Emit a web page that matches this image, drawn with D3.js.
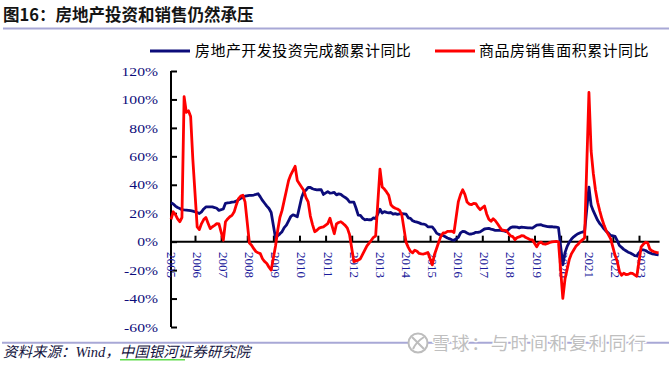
<!DOCTYPE html>
<html><head><meta charset="utf-8">
<script src="https://cdn.jsdelivr.net/npm/d3@7"></script>
<style>html,body{margin:0;padding:0;background:#fff;} svg{display:block;}</style>
</head><body><svg id="c" width="669" height="369"></svg>
<script>
// ---------- data ----------
const yearLabels = ["2005","2006","2007","2008","2009","2010","2011","2012","2013","2014","2015","2016","2017","2018","2019","2020","2021","2022","2023"];
const yTickValues = [-60,-40,-20,0,20,40,60,80,100,120];
const seriesNames = ["房地产开发投资完成额累计同比", "商品房销售面积累计同比"];
const lastMonth2023 = 10;
// monthly cumulative YoY (%), Feb..Dec of each year (2023: Feb..Oct)
const investment = [
  27.3, 26.5, 25.0, 24.0, 23.3, 22.5, 22.3, 22.2, 22.0, 21.8, 21.5,   // 2005
  20.5, 19.8, 21.0, 23.0, 24.4, 24.4, 24.4, 24.4, 24.0, 23.5, 22.0,   // 2006
  23.0, 27.0, 27.3, 27.5, 27.8, 28.0, 28.5, 29.5, 30.5, 31.0, 32.0,   // 2007
  32.6, 32.6, 32.8, 33.2, 33.7, 31.5, 29.0, 27.0, 25.0, 23.3, 20.5,   // 2008
  2.5, 4.1, 5.5, 7.0, 9.9, 11.6, 14.7, 17.7, 18.9, 18.3, 17.5,        // 2009
  31.1, 35.1, 36.2, 38.2, 38.1, 37.2, 36.7, 36.4, 36.5, 36.5, 33.2,   // 2010
  35.2, 34.1, 34.3, 34.6, 32.9, 33.6, 33.2, 32.0, 31.1, 29.9, 27.9,   // 2011
  27.8, 23.5, 18.7, 18.5, 16.6, 15.4, 15.6, 15.4, 15.4, 16.7, 16.2,   // 2012
  22.8, 20.2, 21.1, 20.6, 20.3, 20.5, 19.3, 19.7, 19.2, 19.5, 19.8,   // 2013
  19.3, 16.8, 16.4, 14.7, 14.1, 13.7, 13.2, 12.5, 12.4, 11.9, 10.5,   // 2014
  10.4, 8.5, 6.0, 5.1, 4.6, 4.3, 3.5, 2.6, 2.0, 1.3, 1.0,             // 2015
  3.0, 6.2, 7.2, 7.0, 6.1, 5.3, 5.4, 5.8, 6.6, 6.5, 6.9,              // 2016
  8.9, 9.1, 9.3, 8.8, 8.5, 7.9, 7.9, 8.1, 7.8, 7.5, 7.0,              // 2017
  9.9, 10.4, 10.3, 10.2, 9.7, 10.2, 10.1, 9.9, 9.7, 9.7, 9.5,         // 2018
  11.6, 11.8, 11.9, 11.2, 10.9, 10.6, 10.5, 10.5, 10.3, 10.2, 9.9,    // 2019
  -16.3, -7.7, -3.3, -0.3, 1.9, 3.4, 4.6, 5.6, 6.3, 6.8, 7.0,         // 2020
  38.3, 25.6, 21.6, 18.3, 15.0, 12.7, 10.9, 8.8, 7.2, 6.0, 4.4,       // 2021
  3.7, 0.7, -2.7, -4.0, -5.4, -6.4, -7.4, -8.0, -8.8, -9.8, -10.0,    // 2022
  -5.7, -5.8, -6.2, -7.2, -7.9, -8.5, -8.8, -9.1, -9.3                // 2023
];
const salesArea = [
  15.6, 21.0, 19.0, 16.0, 14.0, 17.0, 102.0, 91.0, 92.0, 88.0, 58.0,  // 2005
  10.4, 8.5, 12.7, 15.5, 17.0, 13.0, 9.2, 10.5, 11.5, 12.7, 12.5,     // 2006
  1.0, 14.0, 16.0, 17.5, 18.5, 21.0, 26.0, 30.3, 32.0, 32.6, 28.0,    // 2007
  -1.0, -2.5, -4.9, -7.0, -7.8, -8.4, -12.0, -14.0, -15.4, -18.0, -20.0, // 2008
  -3.0, 8.0, 17.0, 22.0, 29.0, 36.0, 43.0, 47.0, 50.0, 53.0, 43.0,    // 2009
  38.3, 36.0, 31.0, 28.0, 18.0, 12.0, 7.0, 8.0, 9.5, 10.0, 10.4,      // 2010
  12.7, 16.5, 11.0, 5.6, 12.5, 13.5, 14.0, 12.8, 11.5, 9.5, 5.0,      // 2011
  -14.0, -13.5, -13.0, -12.0, -9.0, -6.0, -3.0, -1.0, 1.0, 3.0, 4.0,  // 2012
  51.0, 38.5, 37.0, 35.0, 32.6, 26.0, 24.4, 23.5, 23.0, 22.0, 19.0,   // 2013
  -0.5, -4.0, -6.8, -7.8, -6.0, -6.7, -8.3, -8.6, -8.7, -8.2, -7.6,   // 2014
  -16.3, -9.2, -4.8, -0.2, 3.9, 6.1, 6.2, 7.2, 7.2, 7.4, 6.5,         // 2015
  28.2, 33.1, 36.5, 33.2, 27.9, 26.4, 26.0, 26.9, 26.8, 24.3, 22.5,   // 2016
  25.1, 19.5, 15.7, 14.3, 16.1, 14.7, 12.6, 10.3, 8.2, 8.0, 7.7,      // 2017
  4.1, 3.6, 1.3, 2.9, 3.3, 4.2, 4.1, 2.9, 2.2, 1.4, 1.3,              // 2018
  -3.6, -0.9, -0.3, -1.6, -1.8, -1.3, -0.6, -0.1, 0.1, 0.2, -0.1,     // 2019
  -39.9, -26.3, -19.3, -12.3, -8.4, -5.8, -3.3, -1.8, 0.0, 1.3, 2.6,  // 2020
  104.9, 63.8, 48.1, 36.3, 27.7, 21.5, 15.9, 11.3, 7.5, 4.8, 1.9,     // 2021
  -9.6, -13.8, -20.9, -23.6, -22.2, -23.1, -23.0, -22.2, -22.3, -23.3, -24.3, // 2022
  -3.6, -1.8, -0.4, -0.9, -5.3, -6.5, -7.1, -7.5, -7.8                // 2023
];

// period positions (decimal years), Feb..Dec each year
const periods = [];
yearLabels.forEach(ys => {
  const y = +ys, last = (y === 2023) ? lastMonth2023 : 12;
  for (let m = 2; m <= last; m++) periods.push(y + (m - 1) / 12);
});

// ---------- chart ----------
const svg = d3.select("#c");
const navy = "#0c0c7a", red = "#ff0000", lav = "#a8a8d6";
const cjk = "'Noto Sans CJK SC', sans-serif";
const serif = "'Liberation Serif', 'Times New Roman', serif";

const x = d3.scaleLinear().domain([2006, 2023]).range([195, 639]);
const y = d3.scaleLinear().domain([-60, 120]).range([327, 71]);
const xStart = x(2005 + 1/12), xEnd = x(2023 + (lastMonth2023 - 1)/12) + 1;

// title
svg.append("text").attr("x", 3).attr("y", 21)
  .attr("font-family", cjk).attr("font-size", 16.5).attr("font-weight", 700)
  .attr("fill", "#141414").text("图16：房地产投资和销售仍然承压");
svg.append("line").attr("x1", 3).attr("x2", 669).attr("y1", 28.5).attr("y2", 28.5)
  .attr("stroke", lav).attr("stroke-width", 2);

// legend
const legend = [
  {name: seriesNames[0], color: navy, x1: 150, x2: 190, tx: 195},
  {name: seriesNames[1], color: red, x1: 435, x2: 475, tx: 479}
];
legend.forEach(l => {
  svg.append("line").attr("x1", l.x1).attr("x2", l.x2).attr("y1", 51).attr("y2", 51)
    .attr("stroke", l.color).attr("stroke-width", 3);
  svg.append("text").attr("x", l.tx).attr("y", 55.5)
    .attr("font-family", cjk).attr("font-size", 15).attr("letter-spacing", 0.45)
    .attr("fill", "#000").text(l.name);
});

// y axis
const yAxis = svg.append("g").attr("transform", `translate(171,0)`)
  .call(d3.axisRight(y).tickValues(yTickValues).tickSize(6).tickFormat(""));
yAxis.select(".domain").attr("stroke", "#000").attr("stroke-width", 2)
  .attr("d", `M0,${y(120)}V${y(-60)}`);
yAxis.selectAll(".tick line").attr("stroke", "#000").attr("stroke-width", 2);
svg.append("g").selectAll("text").data(yTickValues).join("text")
  .attr("transform", d => `translate(158,${y(d)}) scale(1.16,1)`)
  .attr("text-anchor", "end").attr("dominant-baseline", "central")
  .attr("font-family", serif).attr("font-size", 13.5).attr("fill", navy)
  .text(d => d + "%");

// x axis at 0%
const tickYears = yearLabels.slice(1).map(Number);
const xAxis = svg.append("g").attr("transform", `translate(0,${y(0)})`)
  .call(d3.axisTop(x).tickValues(tickYears).tickSize(6).tickFormat(""));
xAxis.select(".domain").attr("stroke", "#000").attr("stroke-width", 2)
  .attr("d", `M${xStart},0H${xEnd}`);
xAxis.selectAll(".tick line").attr("stroke", "#000").attr("stroke-width", 2);
svg.append("g").selectAll("text").data(yearLabels).join("text")
  .attr("transform", d => `translate(${x(+d) + 2.5},252) rotate(90)`)
  .attr("text-anchor", "start").attr("dominant-baseline", "central")
  .attr("font-family", serif).attr("font-size", 13).attr("fill", "#1a1a9a")
  .text(d => d);

// series
const line = d3.line().x((d, i) => x(periods[i])).y(d => y(d));
svg.append("path").datum(investment).attr("d", line)
  .attr("fill", "none").attr("stroke", navy).attr("stroke-width", 2.8)
  .attr("stroke-linejoin", "round");
svg.append("path").datum(salesArea).attr("d", line)
  .attr("fill", "none").attr("stroke", red).attr("stroke-width", 2.8)
  .attr("stroke-linejoin", "round");

// footer
svg.append("line").attr("x1", 2).attr("x2", 669).attr("y1", 342.7).attr("y2", 342.7)
  .attr("stroke", lav).attr("stroke-width", 2);
const src = svg.append("text").attr("x", 3).attr("y", 357)
  .attr("font-family", cjk).attr("font-size", 14.5).attr("font-style", "italic")
  .attr("fill", "#141440");
src.append("tspan").text("资料来源：");
src.append("tspan").attr("font-family", serif).text("Wind");
src.append("tspan").text("，中国银河证券研究院");
svg.append("line").attr("x1", 120).attr("x2", 185).attr("y1", 359.8).attr("y2", 359.8)
  .attr("stroke", "#5fdc4a").attr("stroke-width", 1.5);

// watermark
const wm = svg.append("g");
wm.append("circle").attr("cx", 418).attr("cy", 343).attr("r", 9.5)
  .attr("fill", "#fff").attr("stroke", "#bdbdbd").attr("stroke-width", 2);
wm.append("path").attr("d", "M412,337 Q418,343 424,349 M424,337 Q416,342 413,349")
  .attr("fill", "none").attr("stroke", "#bdbdbd").attr("stroke-width", 2);
wm.append("text").attr("x", 432).attr("y", 350)
  .attr("font-family", cjk).attr("font-size", 18).attr("letter-spacing", 1.6)
  .attr("fill", "#bfbfbf").attr("stroke", "#fff").attr("stroke-width", 2.5)
  .attr("paint-order", "stroke").text("雪球：与时间和复利同行");
</script></body></html>
